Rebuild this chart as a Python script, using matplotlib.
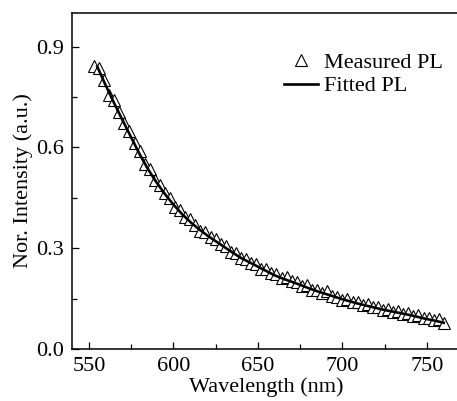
"""
Measured vs fitted PL decay
"""
import matplotlib
matplotlib.use("Agg")
import matplotlib.pyplot as plt
from matplotlib.ticker import MultipleLocator

plt.rcParams['font.family'] = ['Liberation Serif', 'DejaVu Serif']
plt.rcParams['mathtext.fontset'] = 'stix'

# measured points
meas_wl = [553, 556, 559, 562, 565, 568, 571, 574, 577, 580,
           583, 586, 589, 592, 595, 598, 601, 604, 607, 610,
           613, 616, 619, 622, 625, 628, 631, 634, 637, 640,
           643, 646, 649, 652, 655, 658, 661, 664, 667, 670,
           673, 676, 679, 682, 685, 688, 691, 694, 697, 700,
           703, 706, 709, 712, 715, 718, 721, 724, 727, 730,
           733, 736, 739, 742, 745, 748, 751, 754, 757, 760]
meas_pl = [0.843, 0.835, 0.800, 0.757, 0.740, 0.706, 0.672, 0.650, 0.612, 0.590,
           0.551, 0.535, 0.502, 0.488, 0.463, 0.450, 0.422, 0.415, 0.394, 0.386,
           0.368, 0.352, 0.349, 0.332, 0.326, 0.313, 0.306, 0.290, 0.287, 0.272,
           0.268, 0.256, 0.254, 0.239, 0.238, 0.226, 0.222, 0.210, 0.213, 0.201,
           0.199, 0.188, 0.189, 0.177, 0.176, 0.166, 0.172, 0.158, 0.156, 0.147,
           0.148, 0.139, 0.140, 0.131, 0.133, 0.124, 0.126, 0.117, 0.119, 0.111,
           0.113, 0.105, 0.107, 0.099, 0.100, 0.093, 0.093, 0.085, 0.088, 0.077]

# fitted curve
fit_wl = [555, 560, 565, 570, 575, 580, 585, 590, 595, 600,
          605, 610, 615, 620, 625, 630, 635, 640, 645, 650,
          655, 660, 665, 670, 675, 680, 685, 690, 695, 700,
          705, 710, 715, 720, 725, 730, 735, 740, 745, 750,
          755, 760]
fit_pl = [0.840, 0.784, 0.731, 0.680, 0.630, 0.580, 0.535, 0.496, 0.461, 0.430,
          0.402, 0.378, 0.357, 0.338, 0.321, 0.304, 0.287, 0.271, 0.258, 0.245,
          0.232, 0.219, 0.209, 0.200, 0.191, 0.181, 0.172, 0.164, 0.156, 0.148,
          0.141, 0.134, 0.128, 0.122, 0.116, 0.111, 0.106, 0.101, 0.095, 0.089,
          0.084, 0.078]


def pl_plot():
    fig = plt.figure(figsize=(4.57, 4.01), dpi=100)
    ax = fig.add_axes([0.1575, 0.1297, 0.8506, 0.838])

    ax.plot(meas_wl, meas_pl, linestyle='none', marker='^', markersize=9,
            markerfacecolor='white', markeredgecolor='black',
            markeredgewidth=0.8, label='Measured PL')
    ax.plot(fit_wl, fit_pl, color='black', linewidth=1.9, label='Fitted PL')

    ax.set_xlim(540, 770)
    ax.set_ylim(0, 1.0)
    ax.xaxis.set_major_locator(MultipleLocator(50))
    ax.xaxis.set_minor_locator(MultipleLocator(25))
    ax.yaxis.set_major_locator(MultipleLocator(0.3))
    ax.yaxis.set_minor_locator(MultipleLocator(0.15))
    ax.yaxis.set_major_formatter(plt.FormatStrFormatter('%.1f'))

    ax.tick_params(which='both', direction='in', top=False, right=False,
                   width=0.9, labelsize=16)
    ax.tick_params(which='major', length=5, pad=6)
    ax.tick_params(which='minor', length=3.5)
    for sp in ax.spines.values():
        sp.set_linewidth(1.1)

    ax.set_xlabel('Wavelength (nm)', fontsize=16, labelpad=1)
    ax.set_ylabel('Nor. Intensity (a.u.)', fontsize=16, labelpad=2)

    ax.legend(loc='upper right', bbox_to_anchor=(0.995, 0.93), frameon=False,
              fontsize=16, handlelength=1.5, handletextpad=0.3,
              labelspacing=0.15, borderaxespad=0.3)

    fig.savefig('out.png', dpi=100)


if __name__ == '__main__':
    pl_plot()
